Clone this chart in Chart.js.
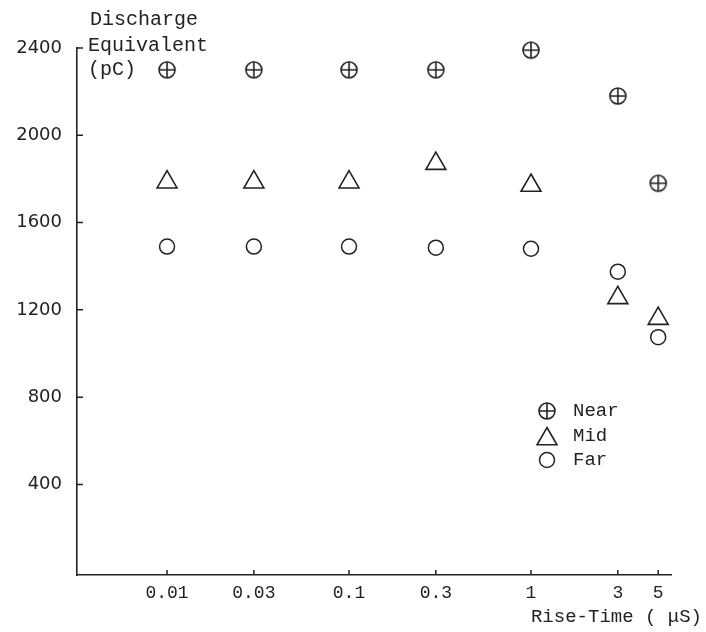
<!DOCTYPE html>
<html lang="en">
  <head>
    <meta charset="UTF-8" />
    <title>Discharge Equivalent vs Rise-Time</title>
    <script src="https://cdn.jsdelivr.net/npm/chart.js"></script>
    <style>
      body {
        margin: 0;
        background-color: #ffffff;
      }

      #wrap {
        width: 706px;
        height: 632px;
      }
    </style>
  </head>
  <body>
    <div id="wrap">
      <canvas id="riseChart"></canvas>
    </div>

    <script>
      // Data
      const riseTimes = [0.01, 0.03, 0.1, 0.3, 1, 3, 5];
      const xTickLabels = ["0.01", "0.03", "0.1", "0.3", "1", "3", "5"];
      const yTicks = [400, 800, 1200, 1600, 2000, 2400];
      const seriesNames = ["Near", "Mid", "Far"];
      const nearValues = [2300, 2300, 2300, 2300, 2390, 2180, 1780];
      const midValues = [1785, 1785, 1785, 1870, 1770, 1255, 1160];
      const farValues = [1490, 1490, 1490, 1485, 1480, 1375, 1075];

      const ink = "#222222";
      const monoFont = "'Liberation Mono', 'DejaVu Sans Mono', monospace";

      // circle with a cross for the "Near" marker
      function makeNearMarker() {
        const c = document.createElement("canvas");
        c.width = 20;
        c.height = 20;
        const g = c.getContext("2d");
        g.strokeStyle = ink;
        g.lineWidth = 1.6;
        g.beginPath();
        g.arc(10, 10, 8, 0, Math.PI * 2);
        g.stroke();
        g.beginPath();
        g.moveTo(2, 10);
        g.lineTo(18, 10);
        g.moveTo(10, 2);
        g.lineTo(10, 18);
        g.stroke();
        return c;
      }
      const nearMarker = makeNearMarker();

      const markerStyles = [
        { pointStyle: nearMarker, radius: 9, rotation: 0, borderWidth: 1.6 },
        { pointStyle: "triangle", radius: 11.5, rotation: 0, borderWidth: 1.6 },
        { pointStyle: "circle", radius: 7.5, rotation: 0, borderWidth: 1.5 },
      ];

      function toPoints(values) {
        return values.map((v, i) => ({ x: riseTimes[i], y: v }));
      }

      // axis texts, inward tick marks and the legend inside the plot
      const annotations = {
        id: "annotations",
        afterDraw(chart) {
          const ctx = chart.ctx;
          const xs = chart.scales.x;
          const ys = chart.scales.y;
          const area = chart.chartArea;
          ctx.save();

          ctx.strokeStyle = ink;
          ctx.lineWidth = 1.5;
          ctx.beginPath();
          yTicks.forEach((v) => {
            const py = ys.getPixelForValue(v);
            ctx.moveTo(area.left, py);
            ctx.lineTo(area.left + 6, py);
          });
          riseTimes.forEach((v) => {
            const px = xs.getPixelForValue(v);
            ctx.moveTo(px, area.bottom);
            ctx.lineTo(px, area.bottom - 5);
          });
          ctx.stroke();

          ctx.fillStyle = ink;
          ctx.font = "20px " + monoFont;
          ctx.textBaseline = "middle";
          ctx.textAlign = "left";
          ctx.fillText("Discharge", 90, 20);
          ctx.fillText("Equivalent", 88, 46);
          ctx.fillText("(pC)", 88, 70);

          ctx.font = "19px " + monoFont;
          ctx.textAlign = "right";
          ctx.fillText("Rise-Time ( μS)", 702, 617);

          // legend
          ctx.textAlign = "left";
          const rows = [411, 436, 460];
          seriesNames.forEach((name, i) => {
            const st = markerStyles[i];
            const my = st.pointStyle === "triangle" ? rows[i] + 3 : rows[i];
            ctx.fillStyle = "rgba(0,0,0,0)";
            ctx.strokeStyle = ink;
            ctx.lineWidth = st.borderWidth;
            Chart.helpers.drawPoint(ctx, st, 547, my);
            ctx.fillStyle = ink;
            ctx.fillText(name, 573, rows[i]);
          });

          ctx.restore();
        },
      };

      const datasets = [nearValues, midValues, farValues].map((vals, i) => ({
        label: seriesNames[i],
        data: toPoints(vals),
        showLine: false,
        pointStyle: markerStyles[i].pointStyle,
        pointRadius: markerStyles[i].radius,
        pointHoverRadius: markerStyles[i].radius,
        pointBorderWidth: markerStyles[i].borderWidth,
        borderColor: ink,
        backgroundColor: "rgba(0,0,0,0)",
        clip: false,
      }));

      const ctx = document.getElementById("riseChart").getContext("2d");
      const chart = new Chart(ctx, {
        type: "scatter",
        data: { datasets: datasets },
        options: {
          responsive: true,
          maintainAspectRatio: false,
          animation: false,
          layout: {
            autoPadding: false,
            padding: { top: 48, right: 35, left: 0, bottom: 0 },
          },
          plugins: {
            legend: { display: false },
            tooltip: { enabled: false },
          },
          scales: {
            x: {
              type: "logarithmic",
              min: 0.0032,
              max: 5.88,
              afterBuildTicks: (scale) => {
                scale.ticks = riseTimes.map((v) => ({ value: v }));
              },
              afterFit: (scale) => {
                scale.height = 57;
              },
              grid: { display: false, drawTicks: false },
              border: { display: true, color: ink, width: 1.6 },
              ticks: {
                autoSkip: false,
                maxRotation: 0,
                padding: 7,
                color: ink,
                font: { family: monoFont, size: 18 },
                callback: (value, index) => xTickLabels[index],
              },
            },
            y: {
              type: "linear",
              min: -15,
              max: 2400,
              afterBuildTicks: (scale) => {
                scale.ticks = yTicks.map((v) => ({ value: v }));
              },
              afterFit: (scale) => {
                scale.width = 77;
              },
              grid: { display: false, drawTicks: false },
              border: { display: true, color: ink, width: 1.6 },
              ticks: {
                autoSkip: false,
                padding: 15,
                color: ink,
                font: { family: "'DejaVu Sans', sans-serif", size: 18 },
                callback: (value) => String(value),
              },
            },
          },
        },
        plugins: [annotations],
      });
    </script>
  </body>
</html>
